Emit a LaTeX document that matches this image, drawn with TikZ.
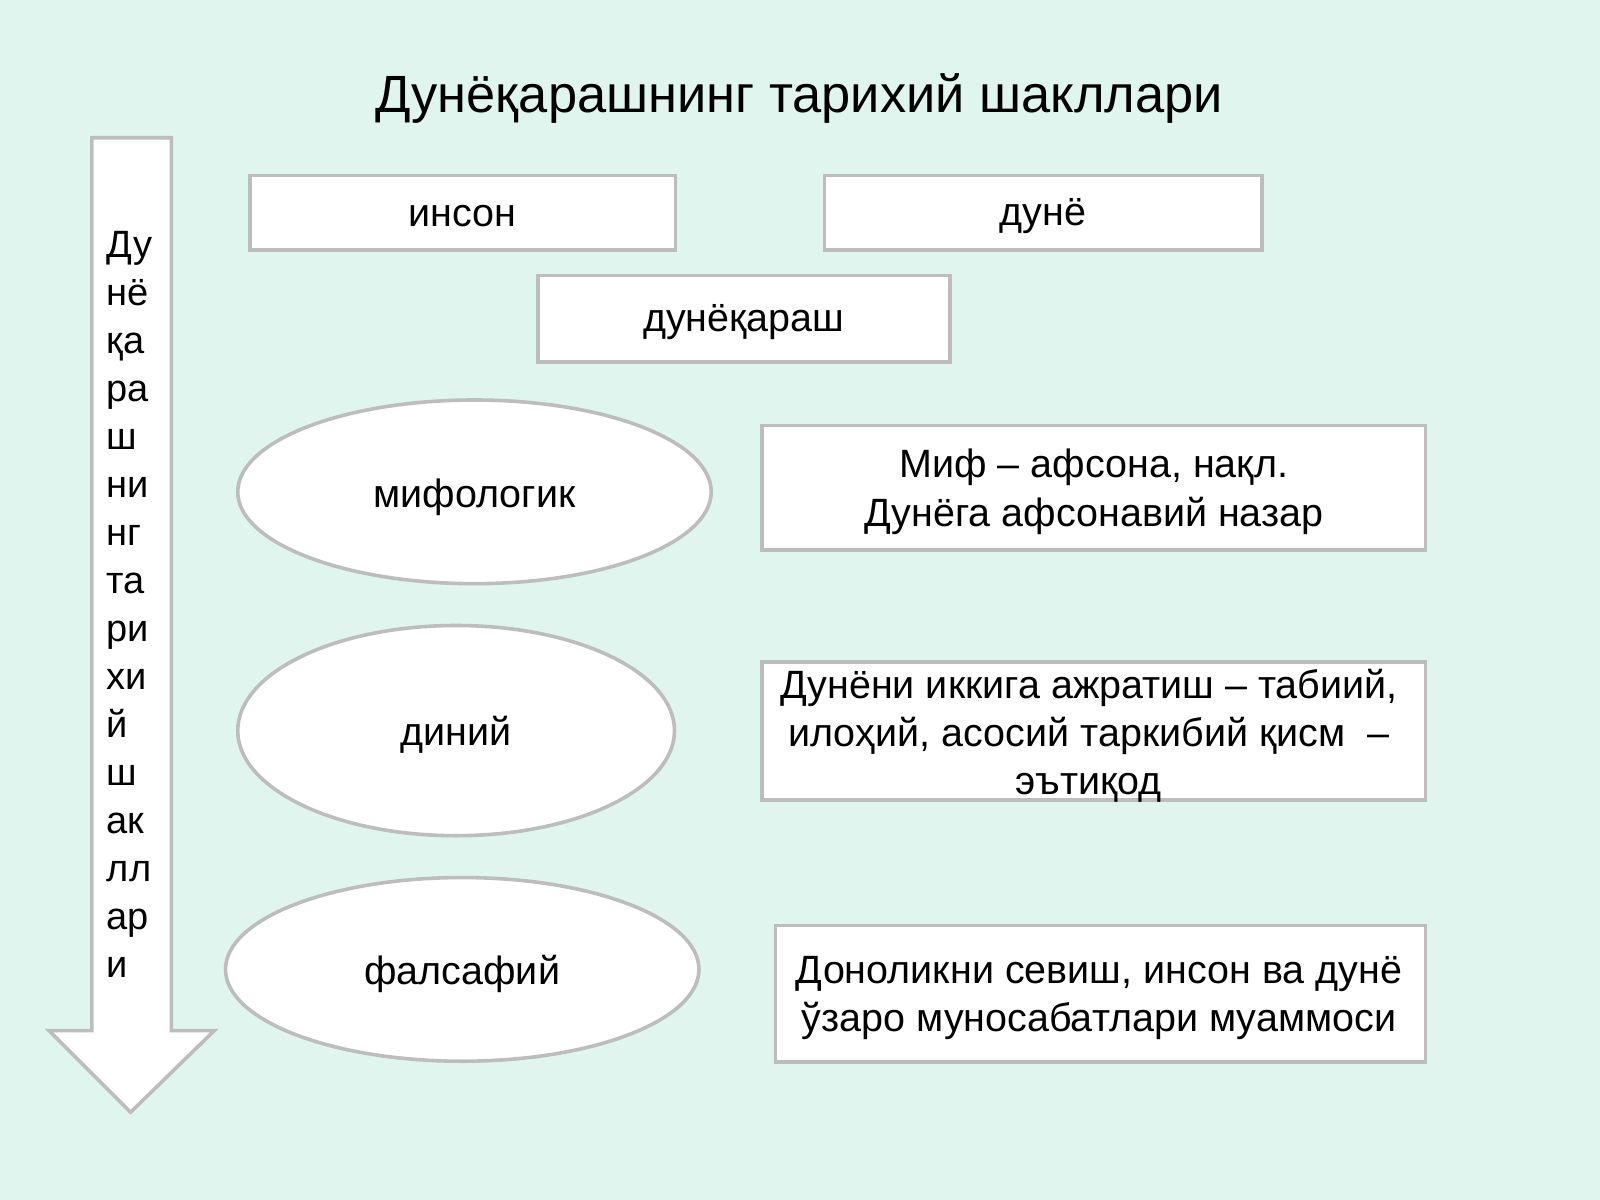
\documentclass[tikz,border=0pt]{standalone}
\usepackage{fontspec}
\setmainfont{Liberation Sans}
\definecolor{bg}{HTML}{DFF5EE}
\definecolor{bd}{HTML}{BDBDBD}
\begin{document}
\begin{tikzpicture}[x=0.01cm,y=-0.01cm,
  bx/.style={draw=bd,line width=1pt,fill=white,inner sep=0pt},
  el/.style={draw=bd,line width=1pt,fill=white},
  t/.style={font=\fontsize{11pt}{13.4pt}\selectfont,align=center}]
\fill[bg] (0,0) rectangle (1568,1176);
\useasboundingbox (0,0) rectangle (1568,1176);
\node[font=\fontsize{14.6pt}{17pt}\selectfont] (title) at (783,97) {Дунёқарашнинг тарихий шакллари};
\draw[bd,line width=1pt,fill=white] (90,135) -- (168,135) -- (168,1010) -- (210,1010) -- (128,1090) -- (48,1010) -- (90,1010) -- cycle;
\node[anchor=north west,align=left,inner sep=0pt,font=\fontsize{10.6pt}{13.37pt}\selectfont] (vt) at (104,226) {Ду\\нё\\қа\\ра\\ш\\ни\\нг\\та\\ри\\хи\\й\\ш\\ак\\лл\\ар\\и};
\draw[bx] (245,172) rectangle (662,245); \node[t] (a) at (453,212) {инсон};
\draw[bx] (808,172) rectangle (1237,245); \node[t] (b) at (1022,212) {дунё};
\draw[bx] (527,270) rectangle (931,355); \node[t] (c) at (729,316) {дунёқараш};
\draw[el] (465,482) ellipse [x radius=232,y radius=90]; \node[t] (e1) at (465,487) {мифологик};
\draw[el] (447,716) ellipse [x radius=214,y radius=103]; \node[t] (e2) at (447,720) {диний};
\draw[el] (453,950) ellipse [x radius=232,y radius=90]; \node[t] (e3) at (453,954) {фалсафий};
\draw[bx] (747,417) rectangle (1397,539); \node[t] (d1) at (1072,482) {Миф – афсона, нақл.\\Дунёга афсонавий назар};
\draw[bx] (747,649) rectangle (1397,784); \node[t] (d2) at (1067,721) {Дунёни иккига ажратиш – табиий,\\илоҳий, асосий таркибий қисм\ \ –\\эътиқод};
\draw[bx] (760,907) rectangle (1397,1041); \node[t] (d3) at (1077,978) {Доноликни севиш, инсон ва дунё\\ўзаро муносабатлари муаммоси};
\end{tikzpicture}
\end{document}
